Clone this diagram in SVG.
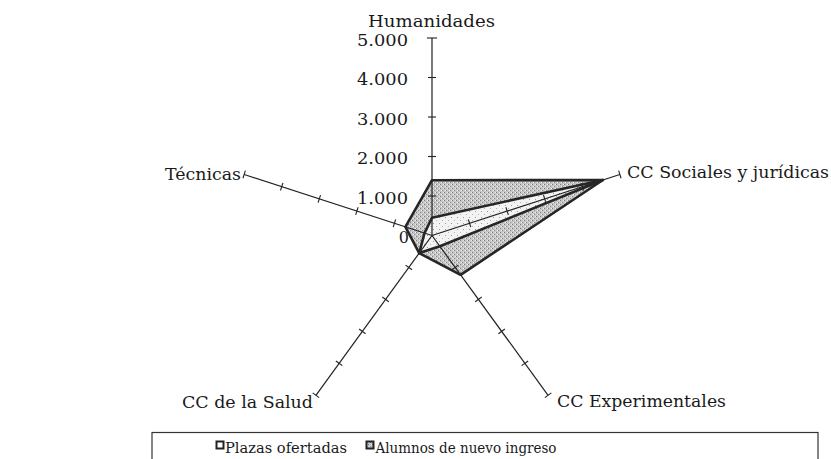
<svg xmlns="http://www.w3.org/2000/svg" width="831" height="459" viewBox="0 0 831 459">
<style>
.lbl{font-family:"DejaVu Serif","Liberation Serif",serif;font-size:16px;fill:#1a1a1a}
.leg{font-family:"DejaVu Serif","Liberation Serif",serif;font-size:15px;fill:#1a1a1a}
.ax{stroke:#222;stroke-width:1.2;fill:none}
.tk{stroke:#222;stroke-width:1.1}
.ser{stroke:#262626;stroke-width:2.6;stroke-linejoin:round;fill:none}
</style>
<defs>
<pattern id="dotA" width="4" height="4" patternUnits="userSpaceOnUse">
<rect width="4" height="4" fill="#c6c6c6"/>
<rect x="0" y="0" width="1" height="1" fill="#7d7d7d"/>
<rect x="2" y="2" width="1" height="1" fill="#8a8a8a"/>
<rect x="3" y="0" width="1" height="1" fill="#eeeeee"/>
<rect x="1" y="2" width="1" height="1" fill="#f0f0f0"/>
</pattern>
<pattern id="dotB" width="6" height="6" patternUnits="userSpaceOnUse">
<rect width="6" height="6" fill="#f3f3f3"/>
<rect x="1" y="1" width="1" height="1" fill="#9a9a9a"/>
<rect x="4" y="4" width="1" height="1" fill="#b5b5b5"/>
</pattern>
</defs>
<rect width="831" height="459" fill="#ffffff"/>

<g id="series-alumnos-fill">
<polygon points="432,180.2 602.9,180 460.6,274.8 419.2,253.1 405.4,226.8" fill="url(#dotA)"/>
</g>
<g id="series-plazas-fill">
<polygon points="432,217.7 602.9,180 439.9,246.3 419.2,253.1 424.5,233.1" fill="url(#dotB)"/>
</g>

<g id="connectors">
<line class="ax" x1="432" y1="235.5" x2="432" y2="38"/>
<line class="ax" x1="432" y1="235.5" x2="619.84" y2="174.47"/>
<line class="ax" x1="432" y1="235.5" x2="548.09" y2="395.28"/>
<line class="ax" x1="432" y1="235.5" x2="315.91" y2="395.28"/>
<line class="ax" x1="432" y1="235.5" x2="244.16" y2="174.47"/>
<g id="ticks">
<line class="tk" x1="428" y1="196" x2="436" y2="196"/>
<line class="tk" x1="428" y1="156.5" x2="436" y2="156.5"/>
<line class="tk" x1="428" y1="117" x2="436" y2="117"/>
<line class="tk" x1="428" y1="77.5" x2="436" y2="77.5"/>
<line class="tk" x1="427" y1="38" x2="437" y2="38"/>
<line class="tk" x1="468.33" y1="219.49" x2="470.80" y2="227.10"/>
<line class="tk" x1="505.90" y1="207.28" x2="508.37" y2="214.89"/>
<line class="tk" x1="543.47" y1="195.08" x2="545.94" y2="202.69"/>
<line class="tk" x1="581.04" y1="182.87" x2="583.51" y2="190.48"/>
<line class="tk" x1="618.61" y1="170.67" x2="621.08" y2="178.28"/>
<line class="tk" x1="458.45" y1="265.10" x2="451.98" y2="269.81"/>
<line class="tk" x1="481.67" y1="297.06" x2="475.20" y2="301.77"/>
<line class="tk" x1="504.89" y1="329.02" x2="498.42" y2="333.72"/>
<line class="tk" x1="528.11" y1="360.97" x2="521.64" y2="365.68"/>
<line class="tk" x1="551.33" y1="392.93" x2="544.86" y2="397.63"/>
<line class="tk" x1="405.55" y1="265.10" x2="412.02" y2="269.81"/>
<line class="tk" x1="382.33" y1="297.06" x2="388.80" y2="301.77"/>
<line class="tk" x1="359.11" y1="329.02" x2="365.58" y2="333.72"/>
<line class="tk" x1="335.89" y1="360.97" x2="342.36" y2="365.68"/>
<line class="tk" x1="312.67" y1="392.93" x2="319.14" y2="397.63"/>
<line class="tk" x1="395.67" y1="219.49" x2="393.20" y2="227.10"/>
<line class="tk" x1="358.10" y1="207.28" x2="355.63" y2="214.89"/>
<line class="tk" x1="320.53" y1="195.08" x2="318.06" y2="202.69"/>
<line class="tk" x1="282.96" y1="182.87" x2="280.49" y2="190.48"/>
<line class="tk" x1="245.40" y1="170.67" x2="242.93" y2="178.28"/>
</g>
</g>

<g id="series-alumnos">
<polygon class="ser" points="432,180.2 602.9,180 460.6,274.8 419.2,253.1 405.4,226.8"/>
</g>
<g id="series-plazas">
<polygon class="ser" points="432,217.7 602.9,180 439.9,246.3 419.2,253.1 424.5,233.1"/>
</g>

<g id="scale-labels">
<text class="lbl" x="408" y="45.5" text-anchor="end" textLength="51" lengthAdjust="spacingAndGlyphs">5.000</text>
<text class="lbl" x="408" y="85" text-anchor="end" textLength="51" lengthAdjust="spacingAndGlyphs">4.000</text>
<text class="lbl" x="408" y="124.5" text-anchor="end" textLength="51" lengthAdjust="spacingAndGlyphs">3.000</text>
<text class="lbl" x="408" y="164" text-anchor="end" textLength="51" lengthAdjust="spacingAndGlyphs">2.000</text>
<text class="lbl" x="408" y="203.5" text-anchor="end" textLength="51" lengthAdjust="spacingAndGlyphs">1.000</text>
<text class="lbl" x="409" y="243" text-anchor="end">0</text>
</g>

<g id="node-humanidades">
<text class="lbl" x="368" y="26.5" textLength="127" lengthAdjust="spacingAndGlyphs">Humanidades</text>
</g>
<g id="node-sociales">
<text class="lbl" x="627" y="178" textLength="202" lengthAdjust="spacingAndGlyphs">CC Sociales y jurídicas</text>
</g>
<g id="node-experimentales">
<text class="lbl" x="557" y="407" textLength="169" lengthAdjust="spacingAndGlyphs">CC Experimentales</text>
</g>
<g id="node-salud">
<text class="lbl" x="182" y="407.5" textLength="131" lengthAdjust="spacingAndGlyphs">CC de la Salud</text>
</g>
<g id="node-tecnicas">
<text class="lbl" x="165" y="180" textLength="76" lengthAdjust="spacingAndGlyphs">Técnicas</text>
</g>

<g id="legend">
<rect x="152" y="432.5" width="666" height="30" fill="none" stroke="#333" stroke-width="1.2"/>
<rect x="216.5" y="441.5" width="7" height="7" fill="#ffffff" stroke="#222" stroke-width="2"/>
<text class="leg" x="225" y="453" textLength="122" lengthAdjust="spacingAndGlyphs">Plazas ofertadas</text>
<rect x="366.5" y="441.5" width="7" height="7" fill="url(#dotA)" stroke="#222" stroke-width="2"/>
<text class="leg" x="375.5" y="453" textLength="181" lengthAdjust="spacingAndGlyphs">Alumnos de nuevo ingreso</text>
</g>
</svg>
